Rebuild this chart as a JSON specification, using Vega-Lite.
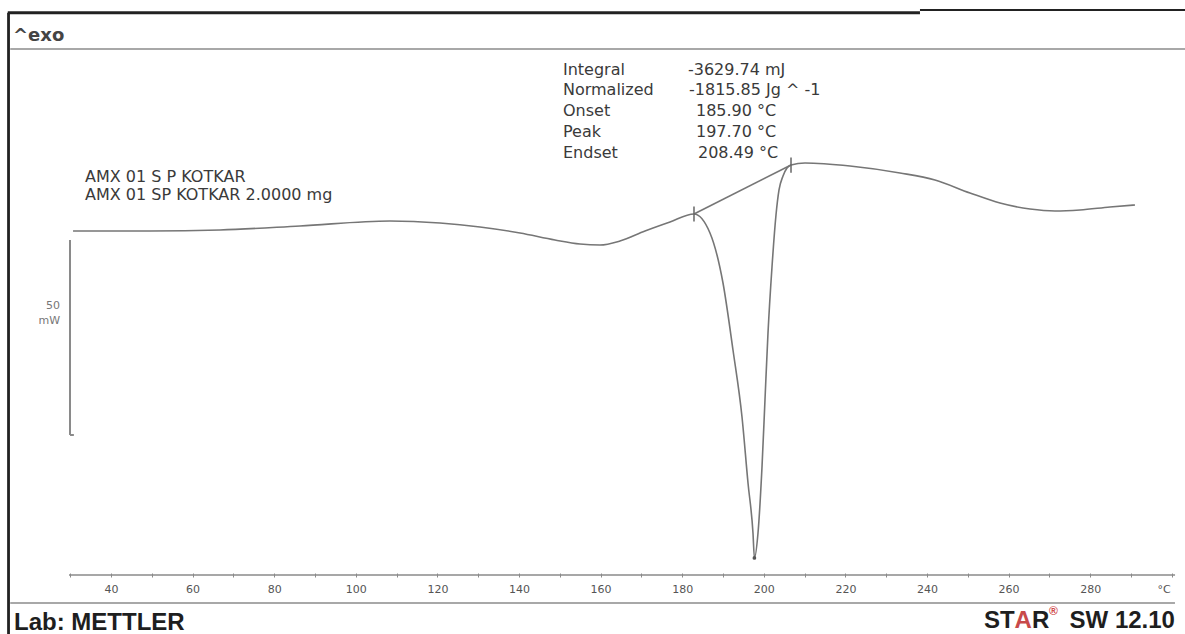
{
  "$schema": "https://vega.github.io/schema/vega-lite/v6.json",
  "width": 1185,
  "height": 634,
  "padding": 0,
  "autosize": {"type": "none"},
  "background": "white",
  "config": {"view": {"stroke": null}},
  "datasets": {
    "curve": [
      {"t": 30.69, "mw": -0.26}, {"t": 49.56, "mw": -0.26}, {"t": 66.72, "mw": 0}, {"t": 86.32, "mw": 1.03},
      {"t": 108.38, "mw": 2.31}, {"t": 120.64, "mw": 1.79}, {"t": 130.44, "mw": 0.77}, {"t": 140.25, "mw": -0.77},
      {"t": 148.82, "mw": -2.56}, {"t": 154.95, "mw": -3.59}, {"t": 159.85, "mw": -3.85}, {"t": 164.75, "mw": -2.82},
      {"t": 170.88, "mw": -0.26}, {"t": 177.01, "mw": 2.05}, {"t": 182.89, "mw": 4.1}, {"t": 186.81, "mw": -0.77},
      {"t": 190.0, "mw": -13.59}, {"t": 192.45, "mw": -30.77}, {"t": 194.66, "mw": -47.95}, {"t": 196.13, "mw": -64.87},
      {"t": 197.35, "mw": -77.69}, {"t": 197.7, "mw": -84.1}, {"t": 198.58, "mw": -77.69}, {"t": 199.56, "mw": -60.77},
      {"t": 200.29, "mw": -43.59}, {"t": 201.03, "mw": -26.41}, {"t": 202.01, "mw": -9.49}, {"t": 202.99, "mw": 3.85},
      {"t": 203.73, "mw": 10.26}, {"t": 204.71, "mw": 13.85}, {"t": 205.69, "mw": 15.9}, {"t": 206.67, "mw": 16.67},
      {"t": 210.1, "mw": 17.18}, {"t": 221.13, "mw": 16.41},
      {"t": 233.38, "mw": 14.62}, {"t": 241.96, "mw": 12.82}, {"t": 250.54, "mw": 9.49}, {"t": 257.89, "mw": 6.92},
      {"t": 265.25, "mw": 5.38}, {"t": 271.37, "mw": 4.87}, {"t": 277.5, "mw": 5.13}, {"t": 284.85, "mw": 5.9},
      {"t": 290.98, "mw": 6.41}
    ],
    "baseline": [{"t": 182.89, "mw": 4.1}, {"t": 206.67, "mw": 16.67}],
    "markers": [
      {"t": 182.89, "mw": 6.0, "t2": 182.89, "mw2": 2.2},
      {"t": 206.67, "mw": 18.6, "t2": 206.67, "mw2": 14.7}
    ],
    "peak": [{"t": 197.7, "mw": -84.1}],
    "scalebar": [
      {"t": 29.95, "t2": 29.95, "mw": -2.56, "mw2": -52.56},
      {"t": 29.95, "t2": 30.9, "mw": -52.56, "mw2": -52.56}
    ],
    "axisline": [{"t": 29.7, "t2": 300.8, "mw": -88.46, "mw2": -88.46}],
    "frame": [
      {"t": 14.88, "t2": 14.88, "mw": 55.7, "mw2": -103.59},
      {"t": 14.7, "t2": 238.28, "mw": 55.7, "mw2": 55.7}
    ],
    "frame2": [{"t": 238.28, "t2": 303.24, "mw": 56.41, "mw2": 56.41}],
    "separators": [
      {"t": 15.3, "t2": 303.24, "mw": 46.41, "mw2": 46.41},
      {"t": 15.3, "t2": 300.78, "mw": -95.64, "mw2": -95.64}
    ],
    "header": [{"t": 15.98, "mw": 49.74, "text": "^exo"}],
    "annot": [
      {"t": 150.78, "mw": 41.03, "text": "Integral"},
      {"t": 150.78, "mw": 35.9, "text": "Normalized"},
      {"t": 150.78, "mw": 30.51, "text": "Onset"},
      {"t": 150.78, "mw": 25.13, "text": "Peak"},
      {"t": 150.78, "mw": 19.74, "text": "Endset"},
      {"t": 181.42, "mw": 41.03, "text": "-3629.74 mJ"},
      {"t": 181.67, "mw": 35.9, "text": "-1815.85 Jg ^ -1"},
      {"t": 183.38, "mw": 30.51, "text": "185.90 °C"},
      {"t": 183.38, "mw": 25.13, "text": "197.70 °C"},
      {"t": 183.87, "mw": 19.74, "text": "208.49 °C"},
      {"t": 33.63, "mw": 13.59, "text": "AMX 01 S P KOTKAR"},
      {"t": 33.63, "mw": 8.97, "text": "AMX 01 SP KOTKAR 2.0000 mg"}
    ],
    "scaletext": [
      {"t": 27.5, "mw": -19.49, "text": "50"},
      {"t": 27.5, "mw": -23.26, "text": "mW"}
    ],
    "unit": [{"t": 298.09, "mw": -92.31, "text": "°C"}],
    "footer": [
      {"t": 16.23, "mw": -100.77, "text": "Lab: METTLER"},
      {"t": 253.97, "mw": -100.26, "text": "ST"},
      {"t": 265.74, "mw": -100.26, "text": "R"}
    ],
    "footerRight": [{"t": 300.78, "mw": -100.26, "text": "SW 12.10"}],
    "footerRed": [{"t": 261.48, "mw": -100.26, "text": "A"}],
    "reg": [{"t": 269.9, "mw": -97.8, "text": "®"}]
  },
  "encoding": {
    "x": {
      "field": "t", "type": "quantitative",
      "scale": {"domain": [12.79, 303.24], "nice": false, "zero": false},
      "axis": {
        "values": [30, 40, 50, 60, 70, 80, 90, 100, 110, 120, 130, 140, 150, 160, 170, 180, 190, 200, 210, 220, 230, 240, 250, 260, 270, 280, 290, 300],
        "labelExpr": "(datum.value % 20 == 0 && datum.value >= 40 && datum.value <= 280) ? datum.label : ''",
        "domain": false, "grid": false, "ticks": true, "tickSize": 4, "tickColor": "#8a8a8a", "tickWidth": 1,
        "offset": -61, "labelFont": "DejaVu Sans", "labelFontSize": 11, "labelColor": "#555555",
        "labelPadding": 6, "title": null, "labelFlush": false, "labelOverlap": false
      }
    },
    "y": {
      "field": "mw", "type": "quantitative",
      "scale": {"domain": [-103.59, 58.97], "nice": false, "zero": false},
      "axis": null
    }
  },
  "layer": [
    {"data": {"name": "frame"}, "mark": {"type": "rule", "color": "#222222", "strokeWidth": 2.8},
     "encoding": {"x2": {"field": "t2"}, "y2": {"field": "mw2"}}},
    {"data": {"name": "frame2"}, "mark": {"type": "rule", "color": "#222222", "strokeWidth": 2},
     "encoding": {"x2": {"field": "t2"}, "y2": {"field": "mw2"}}},
    {"data": {"name": "separators"}, "mark": {"type": "rule", "color": "#a8a8a8", "strokeWidth": 2},
     "encoding": {"x2": {"field": "t2"}, "y2": {"field": "mw2"}}},
    {"data": {"name": "axisline"}, "mark": {"type": "rule", "color": "#8a8a8a", "strokeWidth": 1.5},
     "encoding": {"x2": {"field": "t2"}, "y2": {"field": "mw2"}}},
    {"data": {"name": "scalebar"}, "mark": {"type": "rule", "color": "#8a8a8a", "strokeWidth": 2},
     "encoding": {"x2": {"field": "t2"}, "y2": {"field": "mw2"}}},
    {"data": {"name": "curve"}, "mark": {"type": "line", "color": "#767676", "strokeWidth": 1.6, "interpolate": "monotone"}},
    {"data": {"name": "baseline"}, "mark": {"type": "line", "color": "#767676", "strokeWidth": 1.6}},
    {"data": {"name": "markers"}, "mark": {"type": "rule", "color": "#666666", "strokeWidth": 1.5},
     "encoding": {"x2": {"field": "t2"}, "y2": {"field": "mw2"}}},
    {"data": {"name": "peak"}, "mark": {"type": "point", "filled": true, "color": "#555555", "size": 14, "opacity": 1}},
    {"data": {"name": "header"}, "mark": {"type": "text", "align": "left", "baseline": "middle", "font": "DejaVu Sans", "fontWeight": "bold", "fontSize": 18, "color": "#444444"},
     "encoding": {"text": {"field": "text"}}},
    {"data": {"name": "annot"}, "mark": {"type": "text", "align": "left", "baseline": "middle", "font": "DejaVu Sans", "fontSize": 16, "color": "#3a3a3a"},
     "encoding": {"text": {"field": "text"}}},
    {"data": {"name": "scaletext"}, "mark": {"type": "text", "align": "right", "baseline": "middle", "font": "DejaVu Sans", "fontSize": 11, "color": "#777777"},
     "encoding": {"text": {"field": "text"}}},
    {"data": {"name": "unit"}, "mark": {"type": "text", "align": "center", "baseline": "middle", "font": "DejaVu Sans", "fontSize": 11, "color": "#555555"},
     "encoding": {"text": {"field": "text"}}},
    {"data": {"name": "footer"}, "mark": {"type": "text", "align": "left", "baseline": "middle", "font": "Liberation Sans", "fontWeight": "bold", "fontSize": 24, "color": "#1e1e1e"},
     "encoding": {"text": {"field": "text"}}},
    {"data": {"name": "footerRed"}, "mark": {"type": "text", "align": "left", "baseline": "middle", "font": "Liberation Sans", "fontWeight": "bold", "fontSize": 24, "color": "#c84a4a"},
     "encoding": {"text": {"field": "text"}}},
    {"data": {"name": "footerRight"}, "mark": {"type": "text", "align": "right", "baseline": "middle", "font": "Liberation Sans", "fontWeight": "bold", "fontSize": 24, "color": "#1e1e1e"},
     "encoding": {"text": {"field": "text"}}},
    {"data": {"name": "reg"}, "mark": {"type": "text", "align": "left", "baseline": "middle", "font": "Liberation Sans", "fontWeight": "bold", "fontSize": 12, "color": "#d04a4a"},
     "encoding": {"text": {"field": "text"}}}
  ]
}
